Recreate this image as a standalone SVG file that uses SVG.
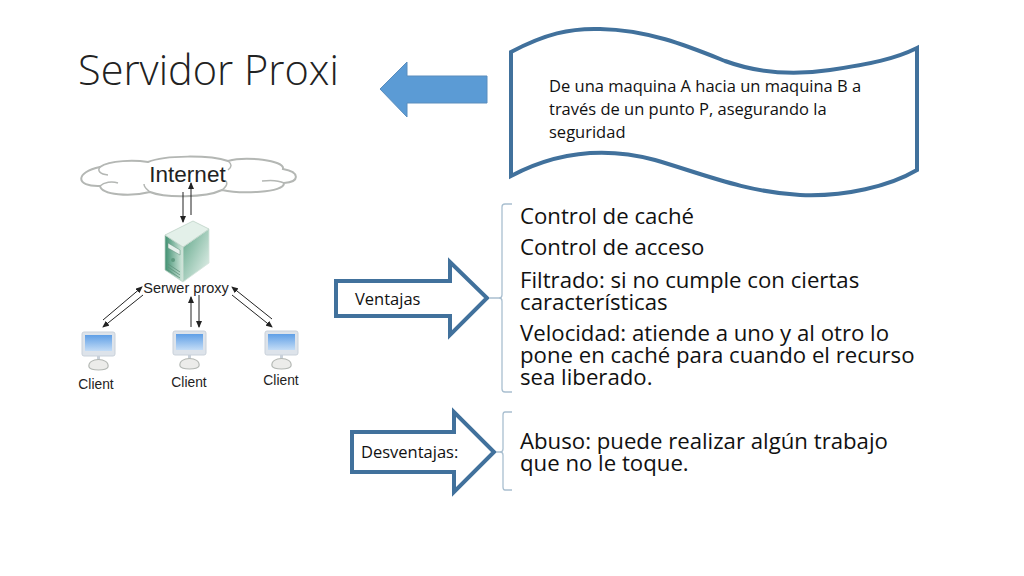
<svg xmlns="http://www.w3.org/2000/svg" width="1024" height="576" viewBox="0 0 1024 576">
<style>
text{font-family:"Open Sans","Noto Sans","Liberation Sans",sans-serif;fill:#111}
.title{font-size:41.500px;font-weight:300;fill:#222}
.body{font-size:22.200px}
.small{font-size:16.500px}
.big{stroke:#41719c;stroke-width:4;fill:#fff;stroke-linejoin:miter}
.brace{fill:none;stroke:#a9bfd0;stroke-width:1.3}
.fig{font-family:"Liberation Sans",sans-serif;fill:#222}
.lnk{stroke:#222;stroke-width:1;fill:none;marker-end:url(#ah)}
.scr{fill:#dde3ea;stroke:#c9d1da;stroke-width:1}
.base{fill:#ececea;stroke:#b4b8b4;stroke-width:1.200}
.curl{fill:none;stroke:#b4b7b4;stroke-width:1.500}
</style>
<defs>
<marker id="ah" markerWidth="7" markerHeight="6" refX="6" refY="3" orient="auto" markerUnits="userSpaceOnUse"><path d="M0 0L7 3L0 6Z" fill="#222"/></marker>
<linearGradient id="scrg" x1="0" y1="0" x2="0" y2="1"><stop offset="0" stop-color="#5f9fe6"/><stop offset="1" stop-color="#c3dcf6"/></linearGradient>
<linearGradient id="srvf" x1="0" y1="0" x2="1" y2="0"><stop offset="0" stop-color="#3f8f70"/><stop offset="1" stop-color="#d6eadf"/></linearGradient>
<linearGradient id="srvs" x1="0" y1="0" x2="1" y2="1"><stop offset="0" stop-color="#5fa688"/><stop offset="1" stop-color="#eef6f2"/></linearGradient>
<g id="pc"><rect class="scr" x="0" y="0" width="33" height="24" rx="2"/><rect x="3" y="3" width="27" height="16" fill="url(#scrg)"/><rect x="15" y="24" width="3" height="4" fill="#c9d1da"/><path class="base" d="M7 35C5 25 28 25 26 35C24 39 9 39 7 35Z"/></g>
</defs>
<rect width="1024" height="576" fill="#fff"/>
<g id="title"><text class="title" x="78" y="85">Servidor Proxi</text></g>
<g id="left-arrow"><path d="M380 89L407 62V76H487V103H407V117Z" fill="#5b9bd5" stroke="#5a8dbd" stroke-width="1"/></g>
<g id="note">
<path class="big" d="M511 52C545 34 570 28 600 29C650 30 690 47 725 61C755 72 790 76 830 70C870 64 895 59 917 48V170C890 186 845 197 800 195C745 192 700 173 655 160C610 148 560 150 511 176Z"/>
<text class="small"><tspan x="549" y="92">De una maquina A hacia un maquina B a</tspan><tspan x="549" y="115">través de un punto P, asegurando la</tspan><tspan x="549" y="138">seguridad</tspan></text>
</g>
<g id="figure">
<path id="cloud" d="M100 167C110 160 135 160 148 162C165 155 210 155 228 161C245 156 285 160 283 169C300 172 300 182 284 183C285 193 240 194 222 190C205 198 165 198 150 192C130 197 102 195 100 186C75 187 75 172 100 167Z" fill="#fff" stroke="#b4b7b4" stroke-width="2"/>
<path class="curl" d="M100 167C97 171 100 174 108 175M100 186C104 182 112 181 118 183M150 192C146 189 144 187 144 184M222 190C226 187 228 184 226 181M284 183C278 180 270 180 262 181M228 161C232 164 232 167 228 170"/>
<text class="fig" x="187.500" y="182" font-size="22.500" text-anchor="middle">Internet</text>
<g id="server">
<path d="M165 235L183 247V282L165 270Z" fill="url(#srvf)" stroke="#bcd2c7" stroke-width=".8"/>
<path d="M183 247L209 229V263L183 282Z" fill="url(#srvs)" stroke="#d5e5dc" stroke-width=".8"/>
<path d="M165 235L193 221L209 229L183 247Z" fill="#e3f0e9" stroke="#bcd2c7" stroke-width=".8"/>
<path d="M168 243L180 250V255L168 248Z" fill="#e7f1ec" stroke="#5f8f7a" stroke-width=".5"/>
<circle cx="173" cy="260" r="2" fill="#5f9a80"/>
<path d="M168 267L180 275M168 270L180 278M168 264L180 272" stroke="#5f8f7a" stroke-width=".8"/>
</g>
<text class="fig" x="186" y="293" font-size="14.500" text-anchor="middle">Serwer proxy</text>
<use href="#pc" x="82" y="332"/><use href="#pc" x="173" y="331"/><use href="#pc" x="265" y="331"/>
<text class="fig" x="96" y="389" font-size="13.800" text-anchor="middle">Client</text>
<text class="fig" x="189" y="387" font-size="13.800" text-anchor="middle">Client</text>
<text class="fig" x="281" y="385" font-size="13.800" text-anchor="middle">Client</text>
</g>
<g id="connectors">
<path class="lnk" d="M183 192V222"/><path class="lnk" d="M191 215V183"/>
<path class="lnk" d="M103 320L142 287"/><path class="lnk" d="M143 295L103 327"/>
<path class="lnk" d="M191 327V297"/><path class="lnk" d="M199 295V327"/>
<path class="lnk" d="M272 319L232 287"/><path class="lnk" d="M232 295L272 327"/>
</g>
<g id="ventajas">
<path class="big" d="M336 281H450V262L487 298L450 335V316H336Z"/>
<text class="small" x="355" y="305">Ventajas</text>
</g>
<g id="desventajas">
<path class="big" d="M352 432H454V412L494 452L454 492V472H352Z"/>
<text class="small" x="361" y="458">Desventajas:</text>
</g>
<g id="brace-1"><path class="brace" d="M512 204H505Q502 204 502 207V295Q502 298 499 298H490M499 298Q502 298 502 301V389Q502 392 505 392H512"/></g>
<g id="brace-2"><path class="brace" d="M512 412H505Q503 412 503 415V449Q503 452 500 452H496M500 452Q503 452 503 455V487Q503 490 505 490H512"/></g>
<g id="ventajas-list">
<text class="body" x="520" y="224">Control de caché</text>
<text class="body" x="520" y="255">Control de acceso</text>
<text class="body"><tspan x="520" y="288">Filtrado: si no cumple con ciertas</tspan><tspan x="520" y="310">características</tspan></text>
<text class="body"><tspan x="520" y="341">Velocidad: atiende a uno y al otro lo</tspan><tspan x="520" y="363">pone en caché para cuando el recurso</tspan><tspan x="520" y="385">sea liberado.</tspan></text>
</g>
<g id="desventajas-list">
<text class="body"><tspan x="520" y="449">Abuso: puede realizar algún trabajo</tspan><tspan x="520" y="471">que no le toque.</tspan></text>
</g>
</svg>
